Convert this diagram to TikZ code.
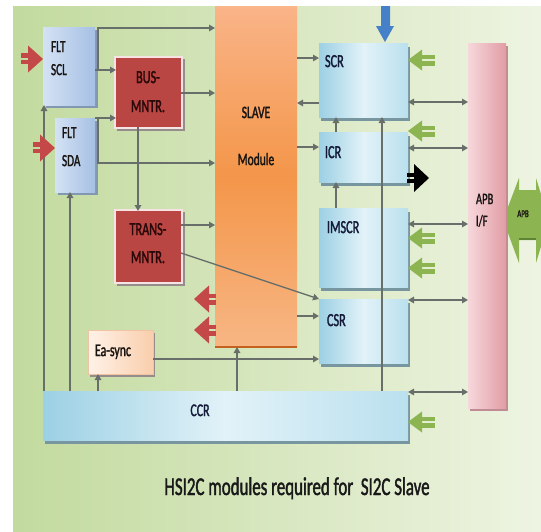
\documentclass[tikz,border=0pt]{standalone}
\usepackage{fontspec}
\setmainfont{Carlito}[FakeStretch=0.66,FakeBold=1.5]
\usetikzlibrary{arrows.meta,shadows}
\definecolor{bgL}{RGB}{194,218,158}
\definecolor{bgR}{RGB}{238,244,226}
\definecolor{regL}{RGB}{156,208,228}
\definecolor{regM}{RGB}{226,242,248}
\definecolor{regR}{RGB}{186,224,238}
\definecolor{regS}{RGB}{120,150,160}
\definecolor{fltL}{RGB}{212,226,244}
\definecolor{fltR}{RGB}{166,192,228}
\definecolor{fltS}{RGB}{130,152,178}
\definecolor{monF}{RGB}{186,70,68}
\definecolor{monB}{RGB}{246,228,228}
\definecolor{monS}{RGB}{150,140,140}
\definecolor{slT}{RGB}{249,180,136}
\definecolor{slM}{RGB}{244,150,74}
\definecolor{slB}{RGB}{247,182,132}
\definecolor{slE}{RGB}{196,98,30}
\definecolor{apL}{RGB}{246,216,220}
\definecolor{apR}{RGB}{226,156,164}
\definecolor{apS}{RGB}{190,140,146}
\definecolor{syL}{RGB}{255,242,232}
\definecolor{syR}{RGB}{249,206,172}
\definecolor{syB}{RGB}{240,196,162}
\definecolor{lineC}{RGB}{104,110,106}
\definecolor{arRed}{RGB}{196,72,72}
\definecolor{arGreen}{RGB}{140,180,80}
\definecolor{arGreenD}{RGB}{96,130,52}
\definecolor{arBlue}{RGB}{70,128,200}
\definecolor{txNavy}{RGB}{20,26,56}
\definecolor{txDark}{RGB}{24,20,18}
\definecolor{txRed}{RGB}{40,8,8}
\tikzset{
  boxbase/.style={anchor=north west, inner sep=0pt, outer sep=0pt},
  regbox/.style={boxbase, left color=regL, right color=regR, middle color=regM,
    drop shadow={shadow xshift=1.5pt, shadow yshift=-3.5pt, fill=regS, opacity=1}},
  fltbox/.style={boxbase, left color=fltL, right color=fltR,
    drop shadow={shadow xshift=2.5pt, shadow yshift=-3pt, fill=fltS, opacity=1}},
  monshadow/.style={fill=monS},
  monrim/.style={fill=monB},
  slavebox/.style={boxbase, top color=slT, bottom color=slB, middle color=slM},
  apbbox/.style={boxbase, left color=apL, right color=apR,
    drop shadow={shadow xshift=1.5pt, shadow yshift=-3pt, fill=apS, opacity=1}},
  syncbox/.style={boxbase, left color=syL, right color=syR, draw=syB, line width=0.8pt,
    drop shadow={shadow xshift=2pt, shadow yshift=-3pt, fill=monS, opacity=1}},
  lbl/.style={inner sep=0pt, outer sep=0pt, text height=0.62em, text depth=0pt},
  conn/.style={draw=lineC, line width=1.4pt, -{Triangle[length=6pt,width=6.5pt]}},
  dconn/.style={draw=lineC, line width=1.4pt, {Triangle[length=6pt,width=6.5pt]}-{Triangle[length=6pt,width=6.5pt]}},
  redarr/.pic={
    \fill[arRed] (0,0) -- (-15,-13.5) -- (-15,13.5) -- cycle;
    \fill[arRed] (-22,-6) rectangle (-14,-1.2);
    \fill[arRed] (-22,1.2) rectangle (-14,5);
  },
  greenarr/.pic={
    \fill[arGreen] (0,0) -- (-14,-10.5) -- (-14,10.5) -- cycle;
    \fill[arGreen] (-27,-6) rectangle (-13,-1.3);
    \fill[arGreen] (-27,1.3) rectangle (-13,4.8);
  },
  blackarr/.pic={
    \fill[black] (0,0) -- (-15,-14) -- (-15,14) -- cycle;
    \fill[black] (-22,-5) rectangle (-14,-1);
    \fill[black] (-22,1) rectangle (-14,5);
  }
}
\begin{document}
\begin{tikzpicture}[x=1pt,y=-1pt]
\useasboundingbox (0,0) rectangle (541,531);
\fill[white] (0,0) rectangle (541,531);
\shade[left color=bgL, right color=bgR] (13,6) rectangle (541,531);

% boxes
\node[slavebox, minimum width=82pt, minimum height=341pt] (slave) at (215,6) {};
\draw[slE, line width=2.5pt] (slave.south west) -- (slave.south east);
\node[fltbox, minimum width=52pt, minimum height=78pt] (scl) at (43,27) {};
\node[fltbox, minimum width=40pt, minimum height=74pt] (sda) at (55,118) {};
% monitor boxes: shadow, light rim, red body
\fill[monshadow] (117,59) rectangle (185,131);
\fill[monrim] (114,56) rectangle (183,129);
\fill[monshadow] (117,212) rectangle (185,286);
\fill[monrim] (114,209) rectangle (183,284);
\node[boxbase, fill=monF, minimum width=65pt, minimum height=69pt] (bus) at (116,58) {};
\node[boxbase, fill=monF, minimum width=65pt, minimum height=71pt] (trans) at (116,211) {};
\node[regbox, minimum width=89pt, minimum height=74pt] (scr) at (319,43) {};
\node[regbox, minimum width=89pt, minimum height=50pt] (icr) at (319,132) {};
\node[regbox, minimum width=89pt, minimum height=79pt] (imscr) at (319,208) {};
\node[regbox, minimum width=89pt, minimum height=64pt] (csr) at (319,299) {};
\node[regbox, minimum width=365pt, minimum height=49pt] (ccr) at (43,391) {};
\node[syncbox, minimum width=65pt, minimum height=44pt] (easync) at (88,330) {};
\node[apbbox, minimum width=38pt, minimum height=365pt] (apb) at (468,43) {};

% connectors
\draw[conn] (scl.east |- 0,70) -- (bus.west |- 0,70);
\draw[conn] (98,70) -- (98,28) -- (slave.west |- 0,28);
\draw[conn] (sda.east |- 0,118) -- (bus.west |- 0,118);
\draw[conn] (98,118) -- (98,163) -- (slave.west |- 0,163);
\draw[conn] (bus.east |- 0,93) -- (slave.west |- 0,93);
\draw[conn] (bus.south -| 138,0) -- (trans.north -| 138,0);
\draw[conn] (trans.east |- 0,225) -- (slave.west |- 0,225);
\draw[conn] (trans.east |- 0,253) -- (csr.north west);
\draw[conn] (ccr.north -| 44,0) -- (scl.south -| 44,0);
\draw[conn] (ccr.north -| 70,0) -- (sda.south -| 70,0);
\draw[conn] (ccr.north -| 98,0) -- (easync.south -| 98,0);
\draw[conn] (easync.east |- 0,359) -- (csr.west |- 0,359);
\draw[conn] (ccr.north -| 237,0) -- (slave.south -| 237,0);
\draw[conn] (slave.east |- 0,316) -- (csr.west |- 0,316);
\draw[conn] (slave.east |- 0,58) -- (scr.west |- 0,58);
\draw[conn] (scr.west |- 0,103) -- (slave.east |- 0,103);
\draw[conn] (slave.east |- 0,147) -- (icr.west |- 0,147);
\draw[conn] (icr.north -| 336,0) -- (scr.south -| 336,0);
\draw[conn] (imscr.north -| 336,0) -- (icr.south -| 336,0);
\draw[conn] (ccr.north -| 382,0) -- (scr.south -| 382,0);
\draw[dconn] (scr.east |- 0,102) -- (apb.west |- 0,102);
\draw[dconn] (icr.east |- 0,148) -- (apb.west |- 0,148);
\draw[dconn] (imscr.east |- 0,224) -- (apb.west |- 0,224);
\draw[dconn] (csr.east |- 0,300) -- (apb.west |- 0,300);
\draw[dconn] (ccr.east |- 0,392) -- (apb.west |- 0,392);

% block arrows
\pic at (scl.west |- 0,59) {redarr};
\pic at (sda.west |- 0,148) {redarr};
\pic[rotate=180] at (194,299) {redarr};
\pic[rotate=180] at (194,330) {redarr};
\pic[rotate=180] at (scr.east |- 0,60) {greenarr};
\pic[rotate=180] at (icr.east |- 0,131) {greenarr};
\pic[rotate=180] at (imscr.east |- 0,238) {greenarr};
\pic[rotate=180] at (imscr.east |- 0,268) {greenarr};
\pic[rotate=180] at (ccr.east |- 0,422) {greenarr};
\pic at (429,178) {blackarr};
\fill[arBlue] (381,6) -- (390,6) -- (390,26) -- (394,26) -- (385,42) -- (376,26) -- (381,26) -- cycle;
\begin{scope}
  \clip (500,170) rectangle (541,270);
  \fill[arGreen] (508,207) -- (519,178) -- (519,190) -- (536,190) -- (536,178) -- (549,220) -- (536,263) -- (536,240) -- (519,240) -- (519,263) -- (508,233) -- cycle;
  \draw[arGreenD, line width=2pt] (519,239) -- (536,239);
\end{scope}

% labels
\begin{scope}[every node/.style={lbl}]
\node[font=\fontsize{17}{17}\selectfont, text=txDark, anchor=west] (l1) at (51,49) {FLT};
\node[font=\fontsize{17}{17}\selectfont, text=txDark, anchor=west] (l2) at (51,72) {SCL};
\node[font=\fontsize{17}{17}\selectfont, text=txDark, anchor=west] (l3) at (62,135) {FLT};
\node[font=\fontsize{17}{17}\selectfont, text=txDark, anchor=west] (l4) at (62,163) {SDA};
\node[font=\fontsize{18.5}{18}\selectfont, text=txRed] (l5) at (148,80) {BUS-};
\node[font=\fontsize{18.5}{18}\selectfont, text=txRed] (l6) at (148,109) {MNTR.};
\node[font=\fontsize{18.5}{18}\selectfont, text=txRed] (l7) at (148,232) {TRANS-};
\node[font=\fontsize{18.5}{18}\selectfont, text=txRed] (l8) at (148,260) {MNTR.};
\node[font=\fontsize{17.5}{17}\selectfont, text=txDark] (l9) at (256,115) {SLAVE};
\node[font=\fontsize{17.5}{17}\selectfont, text=txDark] (l10) at (256,162) {Module};
\node[font=\fontsize{18.5}{18}\selectfont, text=txNavy, anchor=west] (l11) at (325,64) {SCR};
\node[font=\fontsize{18.5}{18}\selectfont, text=txNavy, anchor=west] (l12) at (325,155) {ICR};
\node[font=\fontsize{18.5}{18}\selectfont, text=txNavy, anchor=west] (l13) at (327,230) {IMSCR};
\node[font=\fontsize{18.5}{18}\selectfont, text=txNavy, anchor=west] (l14) at (327,323) {CSR};
\node[font=\fontsize{18}{18}\selectfont, text=txNavy] (l15) at (200,413) {CCR};
\node[font=\fontsize{18}{18}\selectfont, text=txDark, anchor=west] (l16) at (95,353) {Ea-sync};
\node[font=\fontsize{16}{16}\selectfont, text=txDark, anchor=west] (l17) at (476,201) {APB};
\node[font=\fontsize{16}{16}\selectfont, text=txDark, anchor=west] (l18) at (476,223) {I/F};
\node[font=\fontsize{10.5}{10}\selectfont, text=txDark] (l19) at (523,214) {APB};
\end{scope}
\node[inner sep=0pt, anchor=base, font=\fontsize{25.6}{25}\selectfont, text=black!90] (title) at (297,495) {HSI2C modules required for\ \ SI2C Slave};
\end{tikzpicture}
\end{document}
